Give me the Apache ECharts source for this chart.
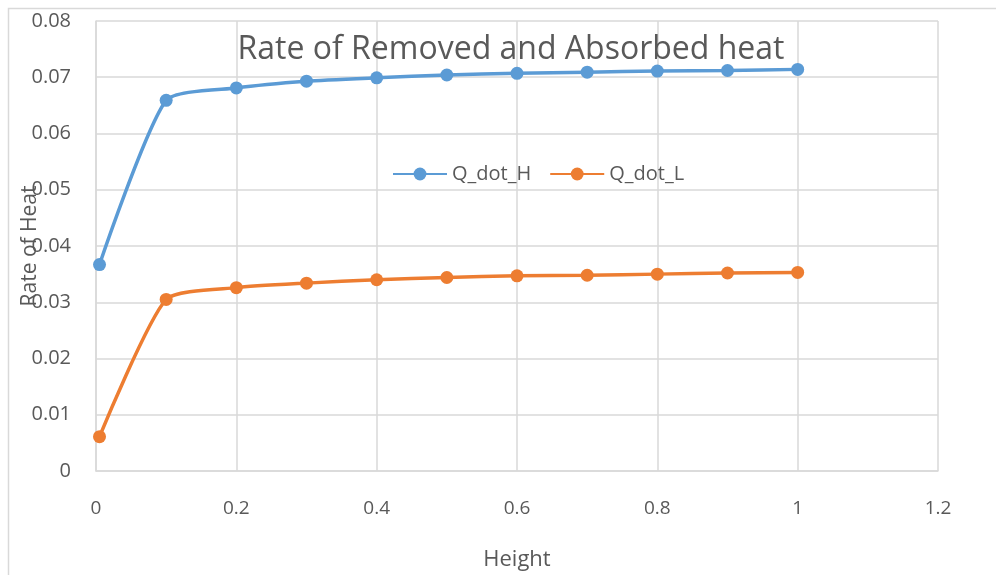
<!DOCTYPE html>
<html>
<head>
<meta charset="utf-8">
<script src="https://cdn.jsdelivr.net/npm/echarts@6/dist/echarts.min.js"></script>
<style>html,body{margin:0;padding:0;background:#fff;}#c{width:996px;height:575px;}</style>
</head>
<body>
<div id="c"></div>
<script>
const heights = [0.005, 0.1, 0.2, 0.3, 0.4, 0.5, 0.6, 0.7, 0.8, 0.9, 1.0];
const qDotH = [0.0367, 0.0659, 0.0681, 0.0693, 0.0699, 0.0704, 0.0707, 0.0709, 0.0711, 0.0712, 0.0714];
const qDotL = [0.0061, 0.0305, 0.0326, 0.0334, 0.0340, 0.0344, 0.0347, 0.0348, 0.0350, 0.0352, 0.0353];
const seriesNames = ['Q_dot_H', 'Q_dot_L'];
const titleText = 'Rate of Removed and Absorbed heat';
const xName = 'Height';
const yName = 'Rate of Heat';

const font = '"Open Sans", sans-serif';
const txt = '#595959';
const colors = ['#5B9BD5', '#ED7D31'];

const chart = echarts.init(document.getElementById('c'));
function mk(name, ys, color) {
  return {
    name: name, type: 'line', smooth: 0.2,
    data: heights.map((x, i) => [x, ys[i]]),
    symbol: 'circle', symbolSize: 13,
    lineStyle: {color: color, width: 3.5},
    itemStyle: {color: color},
    z: 3
  };
}
chart.setOption({
  animation: false,
  graphic: [{type: 'rect', left: 6, top: 6, shape: {width: 1100, height: 700},
    style: {fill: 'none', stroke: '#D9D9D9', lineWidth: 1.5}, silent: true, z: -1}],
  title: {text: titleText, left: 506, top: 29, textAlign: 'center',
    textStyle: {fontFamily: font, fontSize: 32, fontWeight: 'normal', color: txt}},
  legend: {top: 159, left: 387, itemWidth: 54, itemHeight: 16, itemGap: 18,
    textStyle: {fontFamily: font, fontSize: 20, color: txt},
    data: seriesNames},
  grid: {left: 96, top: 21, right: 58, bottom: 104, containLabel: false, outerBoundsMode: 'none'},
  xAxis: {type: 'value', min: 0, max: 1.2, interval: 0.2,
    name: xName, nameLocation: 'middle', nameGap: 78, nameMoveOverlap: false,
    nameTextStyle: {fontFamily: font, fontSize: 22, color: txt},
    axisLine: {lineStyle: {color: '#D9D9D9', width: 1.5}},
    axisTick: {show: false},
    axisLabel: {margin: 28, fontFamily: font, fontSize: 19, color: txt},
    splitLine: {show: true, lineStyle: {color: '#D9D9D9', width: 1.5}}},
  yAxis: {type: 'value', min: 0, max: 0.08, interval: 0.01,
    name: yName, nameLocation: 'middle', nameGap: 55, nameRotate: 90, nameMoveOverlap: false,
    nameTextStyle: {fontFamily: font, fontSize: 21, color: txt},
    axisLine: {show: true, lineStyle: {color: '#D9D9D9', width: 1.5}},
    axisTick: {show: false},
    axisLabel: {margin: 25, fontFamily: font, fontSize: 20, color: txt},
    splitLine: {show: true, lineStyle: {color: '#D9D9D9', width: 1.5}}},
  series: [mk(seriesNames[0], qDotH, colors[0]), mk(seriesNames[1], qDotL, colors[1])]
});
</script>
</body>
</html>
